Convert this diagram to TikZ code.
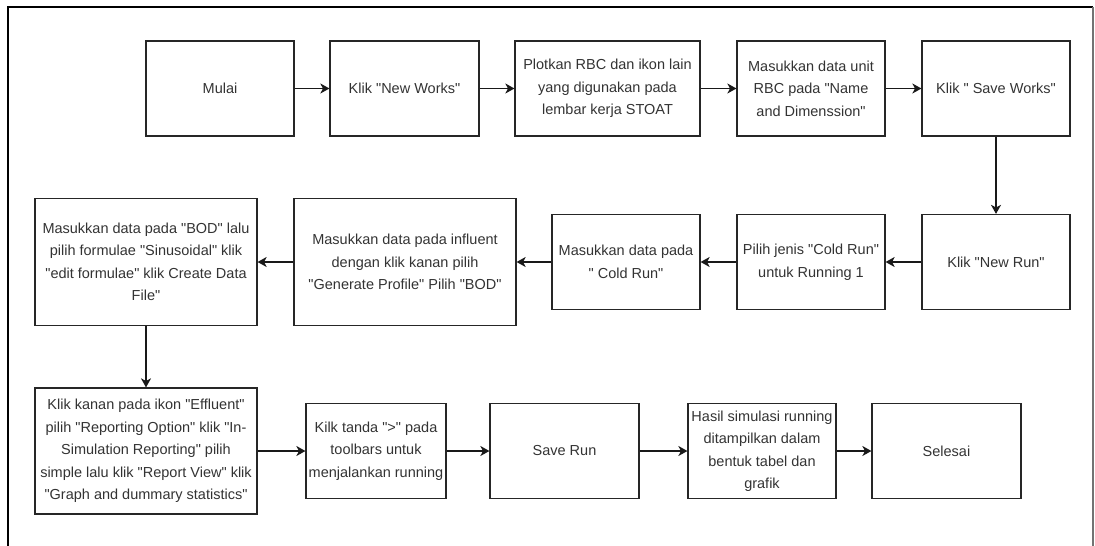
\documentclass[tikz,border=0pt]{standalone}
\usepackage{fontspec}
\setmainfont{Liberation Sans}[Ligatures=TeXOff]
\usetikzlibrary{arrows.meta}

\begin{document}
\begin{tikzpicture}[x=1pt,y=-1pt,
    box/.style={draw=black!85,line width=1.2pt,text=black!80,align=center,inner sep=1pt,
        font=\fontsize{14.5}{22.5}\selectfont},
    flow/.style={-{Stealth[length=9pt,width=10pt,inset=2.5pt]},line width=1.3pt,black!90}]

    \useasboundingbox (0,0) rectangle (1095,546);
    \draw[line width=2.5pt,line join=miter] (8,546) -- (8,7) -- (1093,7);
    \draw[black!55,line width=1.2pt] (1093,7) -- (1093,546);

    \node[box,minimum width=148pt,minimum height=95pt] (mulai) at (220,88.5) {Mulai};
    \node[box,minimum width=149pt,minimum height=95pt] (newworks) at (404.5,88.5) {Klik "New Works"};
    \node[box,minimum width=185pt,minimum height=95pt] (plot) at (607.5,88.5) {Plotkan RBC dan ikon lain\\yang digunakan pada\\lembar kerja STOAT};
    \node[box,minimum width=148pt,minimum height=95pt] (unit) at (811,88.5) {Masukkan data unit\\RBC pada "Name\\and Dimenssion"};
    \node[box,minimum width=148pt,minimum height=95pt] (saveworks) at (996,88.5) {Klik " Save Works"};

    \node[box,minimum width=148pt,minimum height=95pt] (newrun) at (996,262) {Klik "New Run"};
    \node[box,minimum width=148pt,minimum height=95pt] (jenis) at (811,262) {Pilih jenis "Cold Run"\\untuk Running 1};
    \node[box,minimum width=148pt,minimum height=95pt] (coldrun) at (626,262) {Masukkan data pada\\" Cold Run"};
    \node[box,minimum width=222pt,minimum height=127pt] (influent) at (405,262) {Masukkan data pada influent\\dengan klik kanan pilih\\"Generate Profile" Pilih "BOD"};
    \node[box,minimum width=222pt,minimum height=127pt] (bod) at (146,262) {Masukkan data pada "BOD" lalu\\pilih formulae "Sinusoidal" klik\\"edit formulae" klik Create Data\\File"};

    \node[box,minimum width=222pt,minimum height=126pt] (effluent) at (146,451) {Klik kanan pada ikon "Effluent"\\pilih "Reporting Option" klik "In-\\Simulation Reporting" pilih\\simple lalu klik "Report View" klik\\"Graph and dummary statistics"};
    \node[box,minimum width=140pt,minimum height=95pt] (tanda) at (376,451) {Kilk tanda ">" pada\\toolbars untuk\\menjalankan running};
    \node[box,minimum width=149pt,minimum height=95pt] (saverun) at (564.5,451) {Save Run};
    \node[box,minimum width=148pt,minimum height=95pt] (hasil) at (762,451) {Hasil simulasi running\\ditampilkan dalam\\bentuk tabel dan\\grafik};
    \node[box,minimum width=149pt,minimum height=95pt] (selesai) at (946.5,451) {Selesai};

    \draw[flow] (mulai) -- (newworks);
    \draw[flow] (newworks) -- (plot);
    \draw[flow] (plot) -- (unit);
    \draw[flow] (unit) -- (saveworks);
    \draw[flow] (saveworks) -- (newrun);
    \draw[flow] (newrun) -- (jenis);
    \draw[flow] (jenis) -- (coldrun);
    \draw[flow] (coldrun) -- (influent);
    \draw[flow] (influent) -- (bod);
    \draw[flow] (bod) -- (effluent);
    \draw[flow] (effluent) -- (tanda);
    \draw[flow] (tanda) -- (saverun);
    \draw[flow] (saverun) -- (hasil);
    \draw[flow] (hasil) -- (selesai);
\end{tikzpicture}
\end{document}
